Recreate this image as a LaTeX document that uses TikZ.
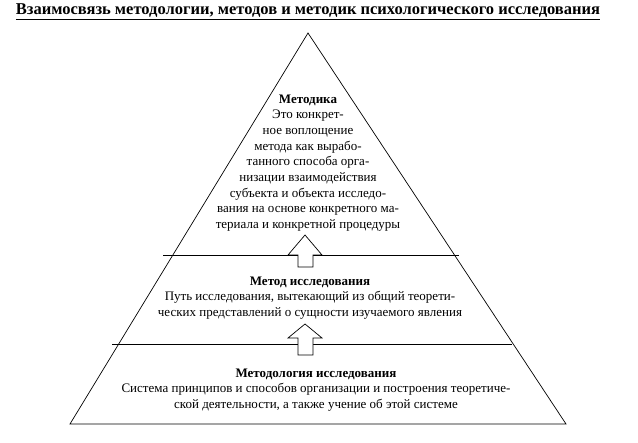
\documentclass[tikz,border=0pt]{standalone}
\usepackage{fontspec}
\setmainfont{Liberation Serif}
\begin{document}
\begin{tikzpicture}[x=1pt,y=-1pt,
  txt/.style={align=center,font=\fontsize{13}{15.7}\selectfont,inner sep=0pt},
  blk/.style={draw,fill=white,line width=0.7pt}]
\useasboundingbox (0,0) rectangle (638,443);
\node[font=\bfseries\fontsize{16.5}{18}\selectfont,inner sep=1pt] (title) at (308,12) {\underline{Взаимосвязь методологии, методов и методик психологического исследования}};
\coordinate (apex) at (308,33);
\coordinate (bl) at (70,424);
\coordinate (br) at (566,424);
\draw[line width=0.7pt] (apex) -- (bl) -- (br) -- cycle;
\draw[line width=0.7pt] (163,255) -- (459,255);
\draw[line width=0.7pt] (112,344) -- (512,344);
\draw[blk] (298,267) -- (298,255) -- (288,255) -- (305,235) -- (322,255) -- (313,255) -- (313,267) -- cycle;
\draw[blk] (298,355) -- (298,338) -- (288,338) -- (305,324) -- (322,338) -- (313,338) -- (313,355) -- cycle;
\node[txt] (t1) at (308,163) {\textbf{Методика}\\Это конкрет-\\ное воплощение\\метода как вырабо-\\танного способа  орга-\\низации взаимодействия\\субъекта и объекта исследо-\\вания на основе конкретного  ма-\\териала и конкретной процедуры};
\node[txt] (t2) at (310,298) {\textbf{Метод исследования}\\Путь исследования, вытекающий из общий теорети-\\ческих представлений о сущности изучаемого явления};
\node[txt] (t3) at (316,390) {\textbf{Методология исследования}\\Система принципов и способов организации и построения теоретиче-\\ской деятельности, а также учение об этой системе};
\end{tikzpicture}
\end{document}
